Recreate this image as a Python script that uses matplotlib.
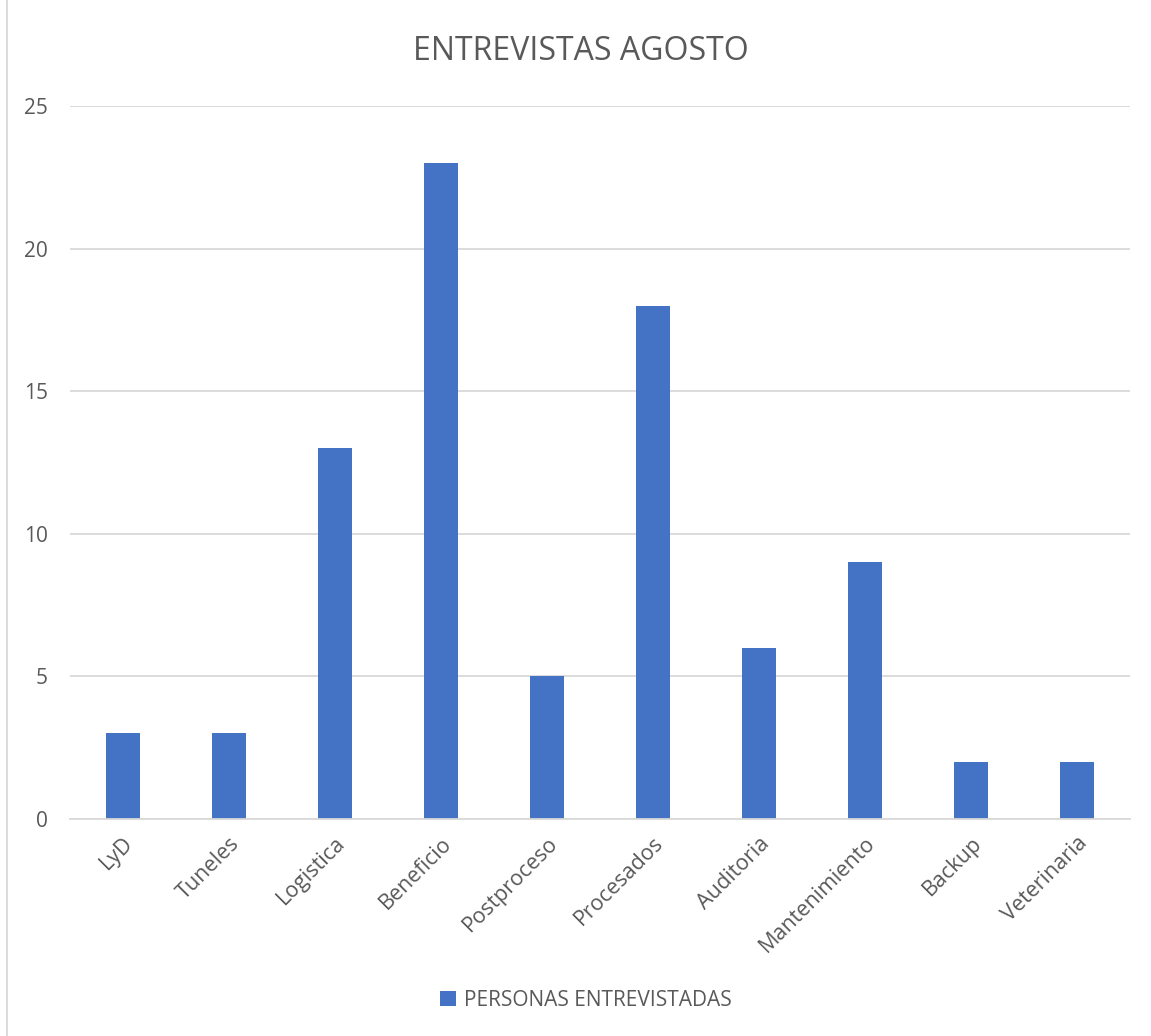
import matplotlib
matplotlib.use("Agg")
import matplotlib.pyplot as plt
from matplotlib.patches import Rectangle

categories = ["LyD", "Tuneles", "Logistica", "Beneficio", "Postproceso",
              "Procesados", "Auditoria", "Mantenimiento", "Backup", "Veterinaria"]
values = [3, 3, 13, 23, 5, 18, 6, 9, 2, 2]
series_name = "PERSONAS ENTREVISTADAS"
title = "ENTREVISTAS AGOSTO"
yticks = [0, 5, 10, 15, 20, 25]

plt.rcParams['font.family'] = ['Open Sans', 'DejaVu Sans']
txt = "#595959"
bar_color = "#4472C4"
grid_color = "#D9D9D9"

W, H = 1151, 1036
fig = plt.figure(figsize=(W/100, H/100), dpi=100)
ax = fig.add_axes([70/W, 1-819/H, (1130-70)/W, (819-106)/H])

x = list(range(len(categories)))
ax.bar(x, values, width=0.32, color=bar_color, zorder=3, label=series_name)
ax.set_xlim(-0.5, len(categories)-0.5)
ax.set_ylim(0, 25)
ax.set_yticks(yticks)
ax.set_yticklabels([str(v) for v in yticks], fontsize=15, color=txt)
ax.set_xticks(x)
ax.set_xticklabels(categories, rotation=45, ha='right', rotation_mode='anchor',
                   fontsize=15.5, color=txt)
ax.tick_params(axis='both', length=0)
ax.tick_params(axis='y', pad=16)
ax.tick_params(axis='x', pad=10)
ax.grid(axis='y', color=grid_color, linewidth=1.3, zorder=0)
for s in ['top', 'right', 'left']:
    ax.spines[s].set_visible(False)
ax.spines['bottom'].set_color(grid_color)
ax.spines['bottom'].set_linewidth(1.3)
ax.spines['bottom'].set_zorder(4)

fig.text(581/W, 1-52/H, title, ha='center', va='center', fontsize=23, color=txt)

leg = fig.legend(loc='center', bbox_to_anchor=(586/W, 1-1000/H), frameon=False,
                 fontsize=15, handlelength=0.75, handleheight=0.75, handletextpad=0.4)
for t in leg.get_texts():
    t.set_color(txt)

fig.patches.append(Rectangle((7/W, -0.1), 1.2, 1.2, transform=fig.transFigure,
                             fill=False, edgecolor=grid_color, linewidth=1.3))

fig.savefig("out.png", dpi=100, facecolor='white')
